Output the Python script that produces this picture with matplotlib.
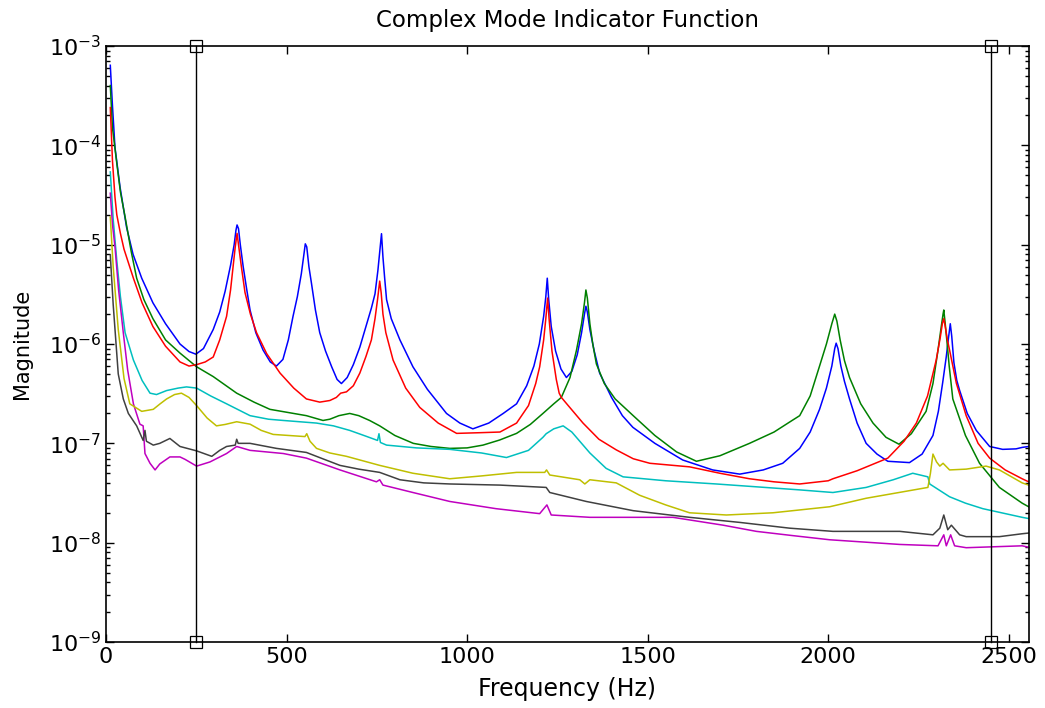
import numpy as np
import matplotlib
matplotlib.use("Agg")
import matplotlib.pyplot as plt
from matplotlib.ticker import LogLocator, FixedLocator

# CMIF singular value curves (frequency in Hz, magnitude)
f_blue = [12, 18, 25, 39, 57, 75, 99, 130, 165, 205, 230, 249, 270, 297, 315, 330, 345, 355,
          360, 363, 367, 372, 380, 390, 399, 415, 435, 455, 472, 490, 505, 518, 530, 541, 548,
          552, 556, 562, 569, 580, 592, 608, 625, 640, 652, 668, 685, 703, 720, 735, 745, 753,
          758, 763, 767, 772, 777, 790, 814, 850, 890, 943, 980, 1016, 1060, 1100, 1137, 1165,
          1185, 1200, 1212, 1218, 1222, 1226, 1233, 1245, 1260, 1275, 1290, 1305, 1317, 1325,
          1329, 1333, 1340, 1352, 1367, 1400, 1430, 1459, 1520, 1597, 1680, 1755, 1820, 1874,
          1921, 1950, 1976, 1995, 2010, 2018, 2022, 2027, 2035, 2045, 2059, 2080, 2105, 2135,
          2165, 2225, 2260, 2290, 2305, 2317, 2327, 2333, 2338, 2342, 2348, 2356, 2364, 2385,
          2410, 2447, 2483, 2520, 2537, 2555]
m_blue = [6.4e-4, 2.5e-4, 9.5e-5, 3.8e-5, 1.5e-5, 8.0e-6, 4.6e-6, 2.6e-6, 1.6e-6, 1.0e-6,
          8.4e-7, 7.9e-7, 9.0e-7, 1.4e-6, 2.1e-6, 3.4e-6, 6.2e-6, 1.0e-5,
          1.4e-5, 1.58e-5, 1.45e-5, 1.0e-5, 6.0e-6, 3.5e-6, 2.2e-6, 1.3e-6, 8.7e-7, 6.6e-7,
          6.0e-7, 7.0e-7, 1.1e-6, 1.9e-6, 3.0e-6, 5.1e-6, 8.0e-6,
          1.02e-5, 9.5e-6, 6.0e-6, 4.1e-6, 2.2e-6, 1.3e-6, 8.5e-7, 5.9e-7, 4.4e-7, 4.0e-7,
          4.6e-7, 6.2e-7, 9.3e-7, 1.5e-6, 2.3e-6, 3.2e-6, 5.5e-6,
          8.5e-6, 1.29e-5, 7.5e-6, 4.5e-6, 2.8e-6, 1.8e-6, 1.1e-6, 5.9e-7, 3.5e-7, 2.0e-7,
          1.6e-7, 1.4e-7, 1.6e-7, 2.0e-7, 2.5e-7, 3.8e-7,
          6.0e-7, 1.0e-6, 1.9e-6, 3.0e-6, 4.6e-6, 2.8e-6, 1.5e-6, 8.5e-7, 5.6e-7, 4.6e-7,
          5.3e-7, 7.8e-7, 1.3e-6, 2.0e-6,
          2.4e-6, 2.1e-6, 1.4e-6, 8.5e-7, 5.1e-7, 2.9e-7, 1.9e-7, 1.45e-7, 1.0e-7, 6.8e-8,
          5.4e-8, 4.9e-8, 5.4e-8, 6.3e-8,
          8.9e-8, 1.3e-7, 2.2e-7, 3.6e-7, 6.0e-7, 9.0e-7, 1.02e-6, 9.0e-7, 6.0e-7, 4.2e-7,
          2.8e-7, 1.6e-7, 1.0e-7, 7.8e-8,
          6.6e-8, 6.4e-8, 7.8e-8, 1.2e-7, 2.1e-7, 4.1e-7, 7.5e-7, 1.15e-6, 1.6e-6, 1.2e-6,
          6.5e-7, 4.3e-7, 3.4e-7, 2.0e-7,
          1.35e-7, 9.3e-8, 8.7e-8, 8.8e-8, 9.1e-8, 9.3e-8]

f_green = [12, 18, 30, 40, 53, 70, 85, 105, 130, 165, 205, 251, 297, 362, 410, 454, 555, 601,
           620, 645, 675, 700, 730, 758, 800, 851, 900, 952, 1000, 1044, 1090, 1137, 1175, 1210,
           1240, 1261, 1285, 1303, 1317, 1325, 1329, 1333, 1340, 1348, 1358, 1380, 1410, 1460,
           1520, 1580, 1635, 1700, 1782, 1850, 1900, 1921, 1950, 1976, 1995, 2010, 2018, 2024,
           2033, 2045, 2059, 2090, 2124, 2160, 2196, 2230, 2271, 2290, 2304, 2313, 2318, 2320,
           2324, 2330, 2335, 2345, 2380, 2419, 2474, 2537, 2555]
m_green = [4.0e-4, 1.5e-4, 6.6e-5, 3.4e-5, 1.9e-5, 8.5e-6, 4.6e-6, 2.8e-6, 1.8e-6, 1.1e-6,
           8.1e-7, 5.9e-7, 4.7e-7, 3.2e-7, 2.6e-7, 2.2e-7, 1.9e-7, 1.7e-7,
           1.75e-7, 1.9e-7, 2.0e-7, 1.9e-7, 1.7e-7, 1.5e-7, 1.2e-7, 1.0e-7, 9.3e-8, 8.9e-8,
           9.0e-8, 9.6e-8, 1.08e-7, 1.26e-7, 1.55e-7, 2.0e-7,
           2.5e-7, 2.9e-7, 4.6e-7, 8.7e-7, 1.6e-6, 2.6e-6, 3.5e-6, 2.9e-6, 1.6e-6, 1.0e-6,
           6.3e-7, 4.0e-7, 2.8e-7, 1.9e-7,
           1.2e-7, 8.2e-8, 6.6e-8, 7.5e-8, 1.0e-7, 1.3e-7, 1.7e-7, 1.9e-7, 3.0e-7, 6.0e-7,
           1.0e-6, 1.6e-6, 2.0e-6, 1.7e-6,
           1.1e-6, 6.8e-7, 4.6e-7, 2.5e-7, 1.6e-7, 1.15e-7, 9.8e-8, 1.25e-7, 2.1e-7, 4.0e-7,
           8.7e-7, 1.5e-6, 2.0e-6, 2.2e-6,
           1.6e-6, 9.5e-7, 6.0e-7, 2.8e-7, 1.2e-7, 6.3e-8, 3.6e-8, 2.5e-8, 2.3e-8]

f_red = [12, 18, 25, 30, 40, 50, 76, 100, 130, 165, 205, 230, 251, 275, 297, 315, 334, 345, 352,
         358, 363, 367, 375, 385, 400, 417, 445, 482, 520, 555, 592, 620, 638, 650, 666, 685,
         703, 720, 735, 745, 752, 758, 762, 767, 775, 795, 830, 869, 920, 971, 1035, 1091, 1137,
         1170, 1190, 1201, 1212, 1218, 1223, 1227, 1235, 1247, 1255, 1261, 1280, 1321, 1365,
         1413, 1460, 1506, 1616, 1700, 1782, 1850, 1921, 2000, 2013, 2080, 2165, 2210, 2244,
         2275, 2299, 2310, 2316, 2320, 2324, 2330, 2336, 2355, 2382, 2415, 2447, 2490, 2537,
         2555]
m_red = [2.4e-4, 7.0e-5, 3.0e-5, 2.0e-5, 1.3e-5, 9.0e-6, 4.6e-6, 2.6e-6, 1.5e-6, 9.5e-7, 6.6e-7,
         6.0e-7, 6.2e-7, 6.6e-7, 7.4e-7, 1.1e-6, 1.9e-6, 3.5e-6, 6.0e-6,
         9.5e-6, 1.3e-5, 1.0e-5, 6.0e-6, 3.3e-6, 2.0e-6, 1.3e-6, 8.0e-7, 5.1e-7, 3.6e-7,
         2.8e-7, 2.6e-7, 2.7e-7, 2.9e-7, 3.2e-7, 3.3e-7, 3.8e-7,
         5.1e-7, 7.5e-7, 1.1e-6, 1.8e-6, 2.8e-6, 4.3e-6, 3.3e-6, 2.0e-6, 1.3e-6, 6.9e-7,
         3.6e-7, 2.3e-7, 1.6e-7, 1.26e-7, 1.28e-7, 1.3e-7, 1.6e-7,
         2.4e-7, 4.0e-7, 5.9e-7, 1.1e-6, 1.8e-6, 2.9e-6, 1.8e-6, 8.5e-7, 4.4e-7, 3.2e-7,
         2.9e-7, 2.4e-7, 1.6e-7, 1.1e-7,
         8.6e-8, 7.0e-8, 6.3e-8, 5.8e-8, 5.0e-8, 4.4e-8, 4.1e-8, 3.9e-8, 4.2e-8, 4.4e-8,
         5.3e-8, 7.1e-8, 1.05e-7, 1.6e-7,
         3.0e-7, 6.9e-7, 1.15e-6, 1.6e-6, 1.8e-6, 1.5e-6, 1.1e-6, 8.7e-7, 4.0e-7, 1.9e-7,
         1.0e-7, 7.1e-8, 5.4e-8, 4.4e-8,
         4.1e-8]

f_cyan = [12, 20, 30, 40, 53, 76, 100, 122, 140, 168, 200, 223, 251, 290, 334, 399, 450, 491,
          583, 630, 675, 720, 752, 756, 760, 777, 860, 952, 1040, 1109, 1170, 1210, 1219, 1240,
          1266, 1290, 1340, 1385, 1432, 1550, 1690, 1921, 2013, 2105, 2180, 2234, 2276, 2281,
          2336, 2380, 2428, 2537, 2555]
m_cyan = [5.4e-5, 1.8e-5, 6.9e-6, 3.0e-6, 1.3e-6, 6.9e-7, 4.3e-7, 3.2e-7, 3.1e-7, 3.4e-7,
          3.6e-7, 3.7e-7, 3.6e-7, 3.0e-7, 2.5e-7, 1.9e-7, 1.75e-7, 1.7e-7,
          1.6e-7, 1.5e-7, 1.35e-7, 1.18e-7, 1.07e-7, 1.25e-7, 1.02e-7, 9.6e-8, 9.0e-8, 8.7e-8,
          8.0e-8, 7.2e-8, 8.5e-8, 1.15e-7, 1.25e-7, 1.4e-7,
          1.5e-7, 1.3e-7, 8.0e-8, 5.6e-8, 4.6e-8, 4.2e-8, 3.9e-8, 3.4e-8, 3.2e-8, 3.6e-8,
          4.3e-8, 5.0e-8, 4.6e-8, 3.9e-8,
          2.9e-8, 2.5e-8, 2.2e-8, 1.8e-8, 1.75e-8]

f_mag = [12, 18, 25, 35, 48, 60, 76, 94, 103, 108, 122, 136, 149, 177, 205, 219, 251, 288, 334,
         362, 399, 491, 555, 648, 749, 758, 767, 850, 952, 1080, 1201, 1221, 1233, 1340, 1570,
         1709, 1801, 1900, 2004, 2198, 2304, 2320, 2327, 2339, 2350, 2382, 2537, 2555]
m_mag = [3.3e-5, 1.6e-5, 9.5e-6, 3.5e-6, 1.3e-6, 5.5e-7, 2.5e-7, 1.56e-7, 1.5e-7, 7.9e-8,
         6.3e-8, 5.4e-8, 6.2e-8, 7.3e-8, 7.3e-8, 6.9e-8, 5.9e-8, 6.5e-8, 7.9e-8,
         9.3e-8, 8.5e-8, 7.9e-8, 7.1e-8, 5.4e-8, 4.1e-8, 4.3e-8, 3.8e-8, 3.2e-8, 2.6e-8,
         2.2e-8, 1.96e-8, 2.4e-8, 1.9e-8, 1.8e-8, 1.8e-8,
         1.5e-8, 1.3e-8, 1.18e-8, 1.07e-8, 9.6e-9, 9.3e-9, 1.2e-8, 9.3e-9, 1.2e-8, 9.3e-9,
         8.9e-9, 9.3e-9, 9.0e-9]

f_yel = [12, 20, 34, 50, 66, 99, 131, 150, 168, 190, 209, 230, 251, 280, 306, 330, 362, 399,
         430, 463, 551, 556, 565, 583, 620, 666, 758, 850, 952, 1040, 1137, 1215, 1220, 1229,
         1312, 1326, 1340, 1413, 1478, 1550, 1616, 1718, 1847, 2004, 2105, 2276, 2283, 2290,
         2300, 2309, 2318, 2336, 2382, 2437, 2474, 2537, 2555]
m_yel = [1.9e-5, 6.0e-6, 1.4e-6, 4.5e-7, 2.5e-7, 2.1e-7, 2.2e-7, 2.5e-7, 2.8e-7, 3.1e-7, 3.2e-7,
         2.9e-7, 2.4e-7, 1.8e-7, 1.5e-7, 1.55e-7, 1.65e-7, 1.56e-7,
         1.35e-7, 1.23e-7, 1.17e-7, 1.25e-7, 1.05e-7, 8.9e-8, 8.0e-8, 7.4e-8, 6.0e-8, 5.0e-8,
         4.4e-8, 4.7e-8, 5.1e-8, 5.1e-8, 5.4e-8, 4.8e-8,
         4.3e-8, 3.9e-8, 4.3e-8, 4.0e-8, 3.0e-8, 2.4e-8, 2.0e-8, 1.9e-8, 2.0e-8, 2.3e-8,
         2.8e-8, 3.6e-8, 5.0e-8, 7.8e-8,
         6.5e-8, 5.9e-8, 6.3e-8, 5.4e-8, 5.5e-8, 5.9e-8, 5.4e-8, 4.0e-8, 3.8e-8]

f_blk = [12, 20, 34, 48, 62, 85, 103, 108, 112, 131, 149, 177, 205, 251, 293, 315, 334, 358,
         362, 366, 399, 472, 555, 600, 648, 700, 758, 814, 880, 952, 1091, 1219, 1229, 1330,
         1460, 1616, 1755, 1893, 2013, 2198, 2290, 2309, 2320, 2331, 2341, 2364, 2382, 2474,
         2537, 2555]
m_blk = [7.9e-6, 2.5e-6, 5.0e-7, 2.8e-7, 2.0e-7, 1.5e-7, 1.07e-7, 1.35e-7, 1.05e-7, 9.6e-8,
         1.0e-7, 1.12e-7, 9.3e-8, 8.4e-8, 7.4e-8, 8.5e-8, 9.3e-8, 9.6e-8,
         1.1e-7, 1.0e-7, 1.0e-7, 8.9e-8, 8.1e-8, 7.0e-8, 6.0e-8, 5.5e-8, 5.1e-8, 4.3e-8,
         4.0e-8, 3.9e-8, 3.8e-8, 3.6e-8, 3.2e-8, 2.6e-8,
         2.1e-8, 1.8e-8, 1.6e-8, 1.4e-8, 1.3e-8, 1.3e-8, 1.2e-8, 1.4e-8, 1.9e-8, 1.35e-8,
         1.5e-8, 1.2e-8, 1.15e-8, 1.15e-8,
         1.23e-8, 1.25e-8]

band_lo = 250
band_hi = 2450
x_ticks = [0, 500, 1000, 1500, 2000, 2500]

plt.rcParams['font.family'] = ['DejaVu Sans']

fig = plt.figure(figsize=(10.45, 7.08), dpi=100)
ax = fig.add_axes([0.1014, 0.0932, 0.8833, 0.8418])

lw = 1.1
ax.semilogy(f_blue, m_blue, color=(0, 0, 1), lw=lw)
ax.semilogy(f_green, m_green, color=(0, 0.5, 0), lw=lw)
ax.semilogy(f_red, m_red, color=(1, 0, 0), lw=lw)
ax.semilogy(f_cyan, m_cyan, color=(0, 0.75, 0.75), lw=lw)
ax.semilogy(f_mag, m_mag, color=(0.75, 0, 0.75), lw=lw)
ax.semilogy(f_yel, m_yel, color=(0.75, 0.75, 0), lw=lw)
ax.semilogy(f_blk, m_blk, color=(0.25, 0.25, 0.25), lw=lw)

for xb in [band_lo, band_hi]:
    ax.plot([xb, xb], [1e-9, 1e-3], color='k', lw=1.0, marker='s', ms=8,
            mfc='none', mec='k', mew=0.9, clip_on=False, zorder=5)

ax.set_xlim(0, 2556)
ax.set_ylim(1e-9, 1e-3)
ax.xaxis.set_major_locator(FixedLocator(x_ticks))
ax.yaxis.set_major_locator(LogLocator(base=10, numticks=10))
ax.yaxis.set_minor_locator(LogLocator(base=10, subs=np.arange(2, 10), numticks=10))

ax.tick_params(which='both', direction='in', top=True, right=True, labelsize=16, width=1.0)
ax.tick_params(which='major', length=6)
ax.tick_params(which='minor', length=3)
ax.tick_params(axis='x', which='minor', top=False, bottom=False)
for s in ax.spines.values():
    s.set_linewidth(1.2)

ax.set_title('Complex Mode Indicator Function', fontsize=16.5, pad=14)
ax.set_xlabel('Frequency (Hz)', fontsize=17, labelpad=7)
ax.set_ylabel('Magnitude', fontsize=15, labelpad=12)

fig.savefig('out.png', dpi=100)
